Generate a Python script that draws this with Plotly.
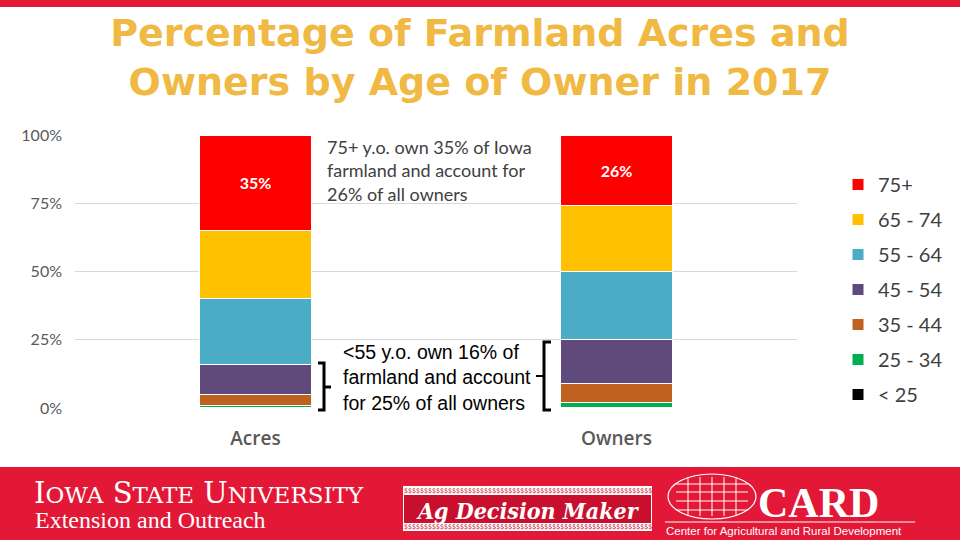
import plotly.graph_objects as go

categories = ["Acres", "Owners"]
age_groups = ["< 25", "25 - 34", "35 - 44", "45 - 54", "55 - 64", "65 - 74", "75+"]
acres_pct = [0.2, 0.8, 4.0, 11.0, 24.0, 25.0, 35.0]
owners_pct = [0.3, 1.7, 7.0, 16.0, 25.0, 24.0, 26.0]
colors = ["#000000", "#00B050", "#C0621F", "#604A7B", "#4BACC6", "#FFC000", "#FF0000"]
y_ticks = [0, 25, 50, 75, 100]
y_tick_labels = ["0%", "25%", "50%", "75%", "100%"]

# plot area in pixels
L, R, T, B = 75, 797, 135, 408
W, H = 960, 540


def px(x):
    return (x - L) / (R - L)


def py(y):
    return (B - y) / (B - T)


fig = go.Figure()
n = len(age_groups)
for i, g in enumerate(age_groups):
    vals = [acres_pct[i], owners_pct[i]]
    kw = {}
    if g == "75+":
        kw = dict(text=[f"{v:.0f}%" for v in vals], texttemplate="%{text}",
                  textposition="inside", insidetextanchor="middle",
                  textfont=dict(family="Lato", size=16, color="white", weight="bold"))
    fig.add_trace(go.Bar(
        x=categories, y=vals, name=g, legendgroup=g, legendrank=n - i,
        marker=dict(color=colors[i], line=dict(color="white", width=1)),
        hoverinfo="skip", **kw))

shapes = []
ann = []

# top red strip
shapes.append(dict(type="rect", xref="paper", yref="paper", x0=px(0), x1=px(W), y0=py(0), y1=py(7),
                   fillcolor="#E31837", line=dict(width=0), layer="below"))
# footer band
shapes.append(dict(type="rect", xref="paper", yref="paper", x0=px(0), x1=px(W), y0=py(467), y1=py(H),
                   fillcolor="#E31837", line=dict(width=0), layer="below"))


def path(points):
    return "M " + " L ".join(f"{px(a):.5f},{py(b):.5f}" for a, b in points)


# brackets
shapes.append(dict(type="path", xref="paper", yref="paper",
                   path=path([(318, 363), (324, 363), (324, 410), (318, 410)]),
                   line=dict(color="black", width=3)))
shapes.append(dict(type="path", xref="paper", yref="paper",
                   path=path([(324, 387), (331, 387)]), line=dict(color="black", width=3)))
shapes.append(dict(type="path", xref="paper", yref="paper",
                   path=path([(551, 342), (544, 342), (544, 410), (551, 410)]),
                   line=dict(color="black", width=3)))
shapes.append(dict(type="path", xref="paper", yref="paper",
                   path=path([(536, 376), (544, 376)]), line=dict(color="black", width=2)))

ann.append(dict(xref="paper", yref="paper", x=px(325), y=py(170), xanchor="left", yanchor="middle",
                align="left", showarrow=False,
                text="75+ y.o. own 35% of Iowa<br>farmland and account for<br>26% of all owners",
                font=dict(family="Lato", size=18, color="#404040")))
ann.append(dict(xref="paper", yref="paper", x=px(341), y=py(377), xanchor="left", yanchor="middle",
                align="left", showarrow=False,
                text="<55 y.o. own 16% of<br>farmland and account<br>for 25% of all owners",
                font=dict(family="Liberation Sans", size=19.5, color="black")))

# footer: ISU
ann.append(dict(xref="paper", yref="paper", x=px(33), y=py(493), xanchor="left", yanchor="middle",
                showarrow=False, borderpad=0,
                text="I<span style='font-size:23px'>OWA</span> S<span style='font-size:23px'>TATE</span> U<span style='font-size:23px'>NIVERSITY</span>",
                font=dict(family="DejaVu Serif", size=29, color="white")))
ann.append(dict(xref="paper", yref="paper", x=px(34), y=py(520), xanchor="left", yanchor="middle",
                showarrow=False, borderpad=0, text="Extension and Outreach",
                font=dict(family="Liberation Serif", size=24, color="white")))

# footer: Ag Decision Maker
shapes.append(dict(type="rect", xref="paper", yref="paper", x0=px(403), x1=px(652), y0=py(486), y1=py(531),
                   fillcolor="white", line=dict(width=0)))
shapes.append(dict(type="rect", xref="paper", yref="paper", x0=px(404), x1=px(651), y0=py(495), y1=py(523),
                   fillcolor="#C8102E", line=dict(width=0)))
for yy in (490.5, 527):
    ann.append(dict(xref="paper", yref="paper", x=px(527.5), y=py(yy), xanchor="center", yanchor="middle",
                    showarrow=False, borderpad=0, text="$" * 62,
                    font=dict(family="DejaVu Sans Condensed", size=7, color="#C8102E")))
ann.append(dict(xref="paper", yref="paper", x=px(527.5), y=py(510), xanchor="center", yanchor="middle",
                showarrow=False, borderpad=0, text="<b><i>Ag Decision Maker</i></b>",
                font=dict(family="DejaVu Serif Condensed", size=23, color="white")))

# footer: CARD
shapes.append(dict(type="circle", xref="paper", yref="paper", x0=px(668), x1=px(756), y0=py(474), y1=py(519),
                   line=dict(color="white", width=1.2)))
for yy in (484, 492, 501, 510):
    shapes.append(dict(type="line", xref="paper", yref="paper", x0=px(676), x1=px(748), y0=py(yy), y1=py(yy),
                       line=dict(color="white", width=1)))
for xx in (688, 700, 712, 724, 736):
    shapes.append(dict(type="line", xref="paper", yref="paper", x0=px(xx), x1=px(xx), y0=py(477), y1=py(516),
                       line=dict(color="white", width=1)))
shapes.append(dict(type="line", xref="paper", yref="paper", x0=px(665), x1=px(915), y0=py(522), y1=py(522),
                   line=dict(color="white", width=1.2)))
ann.append(dict(xref="paper", yref="paper", x=px(757), y=py(503), xanchor="left", yanchor="middle",
                showarrow=False, borderpad=0, text="<b>CARD</b>",
                font=dict(family="Liberation Serif", size=42, color="white")))
ann.append(dict(xref="paper", yref="paper", x=px(665), y=py(531), xanchor="left", yanchor="middle",
                showarrow=False, borderpad=0, text="Center for Agricultural and Rural Development",
                font=dict(family="Liberation Sans", size=11.5, color="white")))

fig.update_layout(
    width=W, height=H,
    barmode="stack", bargap=0.69,
    plot_bgcolor="white", paper_bgcolor="white",
    margin=dict(l=L, r=W - R, t=T, b=H - B, pad=0),
    title=dict(text="<b>Percentage of Farmland Acres and<br>Owners by Age of Owner in 2017</b>",
               x=0.5, xref="container", xanchor="center", y=1 - 46 / H, yref="container", yanchor="middle",
               font=dict(family="DejaVu Sans", size=38, color="#F0B944")),
    xaxis=dict(showgrid=False, showline=False, ticks="", ticklabelstandoff=17,
               tickfont=dict(family="Open Sans", size=19, color="#595959", weight=600)),
    yaxis=dict(range=[0, 100], tickvals=y_ticks, ticktext=y_tick_labels, showgrid=True,
               gridcolor="#D9D9D9", gridwidth=1, zeroline=False, showline=False, ticks="",
               ticklabelstandoff=12, tickfont=dict(family="Lato", size=16, color="#595959")),
    legend=dict(x=px(838), y=py(165), xanchor="left", yanchor="top",
                traceorder="grouped", tracegroupgap=6,
                font=dict(family="Lato", size=20, color="#404040"),
                itemwidth=30, bgcolor="rgba(0,0,0,0)"),
    shapes=shapes, annotations=ann, showlegend=True,
)

fig.write_html("out.html", config={"displayModeBar": False},
               post_script="document.body.style.margin='0';document.body.style.overflow='hidden';")
